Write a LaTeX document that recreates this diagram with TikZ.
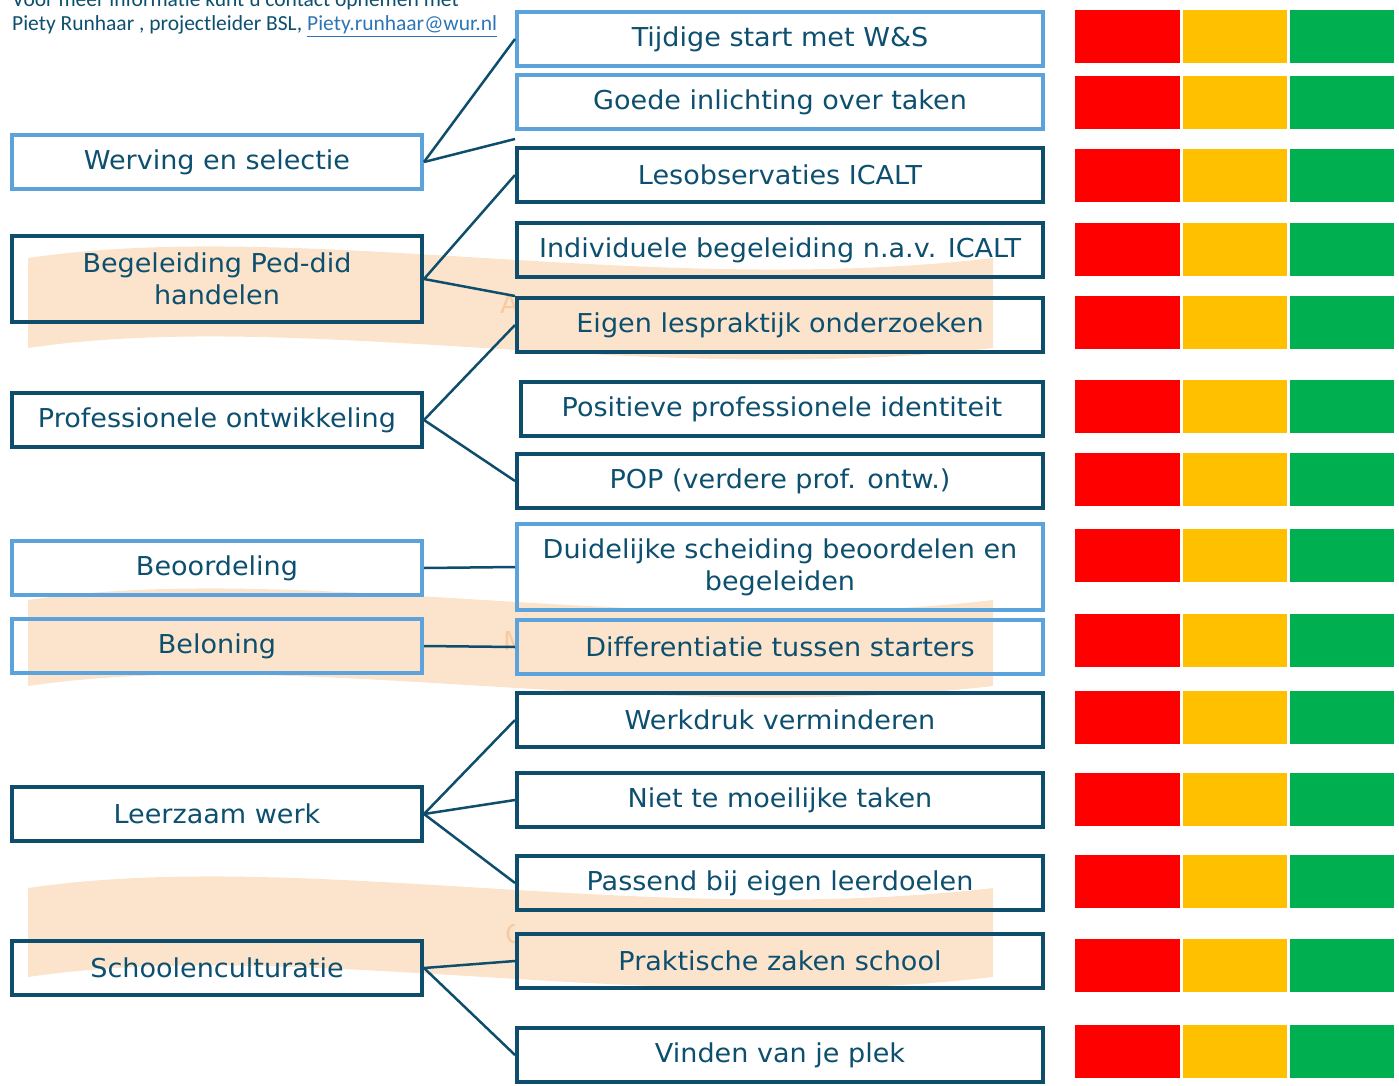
\documentclass[tikz,border=0pt]{standalone}
\usepackage{fontspec}
\setmainfont{DejaVu Sans}[FakeStretch=1.04, Ligatures=NoCommon]
\newfontfamily\calfont{Carlito}
\definecolor{dk}{HTML}{0E4E6C}
\definecolor{lb}{HTML}{5BA3DA}
\definecolor{txt}{HTML}{0D4F6E}
\definecolor{peach}{HTML}{FCE4CC}
\definecolor{peachtxt}{HTML}{F9C9A0}
\definecolor{rd}{HTML}{FF0000}
\definecolor{yl}{HTML}{FFC000}
\definecolor{gr}{HTML}{00B050}
\definecolor{linkc}{HTML}{2E75B6}
\tikzset{
  box/.style={draw, rectangle, line width=4pt, inner sep=0pt, text=txt, align=center,
    font=\fontsize{26}{32}\selectfont},
  darkbox/.style={box, draw=dk},
  lightbox/.style={box, draw=lb},
  lsize/.style={minimum width=410pt, minimum height=54pt},
  rsize/.style={minimum width=526pt, minimum height=54pt},
  tall/.style={minimum height=86pt},
  conn/.style={draw=dk, line width=2.5pt},
  cell/.style={rectangle, inner sep=0pt, minimum height=53pt, minimum width=104pt},
  hidden/.style={anchor=base west, inner sep=0pt, text=peachtxt, font=\fontsize{26}{30}\selectfont},
  note/.style={anchor=base west, inner sep=0pt, text=txt, font=\calfont\fontsize{21.5}{24}\selectfont}
}
\begin{document}
\begin{tikzpicture}[x=1pt,y=-1pt]
\useasboundingbox (0,0) rectangle (1399,1086);
% banners
\foreach \Y/\H in {258/90, 600/86, 888/89}{
  \fill[peach] (28,\Y) .. controls (300,\Y-40) and (650,\Y+40) .. (993,\Y)
     -- (993,\Y+\H) .. controls (650,\Y+\H+40) and (300,\Y+\H-40) .. (28,\Y+\H) -- cycle;
}
\begin{scope}
  \clip (480,0) rectangle (514,1086);
  \node[hidden] (hA) at (500,313) {A};
  \node[hidden] (hM) at (503,650) {M};
  \node[hidden] (hO) at (505,943) {O};
\end{scope}
% note
\node[note] (t1) at (12,7) {Voor meer informatie kunt u contact opnemen met};
\node[note] (t2) at (12,31) {Piety Runhaar , projectleider BSL, \textcolor{linkc}{\underline{Piety.runhaar@wur.nl}}};
% left boxes
\node[lightbox, lsize] (l1) at (217,162) {Werving en selectie};
\node[darkbox, lsize, tall] (l2) at (217,279) {Begeleiding Ped-did\\handelen};
\node[darkbox, lsize] (l3) at (217,420) {Professionele ontwikkeling};
\node[lightbox, lsize] (l4) at (217,568) {Beoordeling};
\node[lightbox, lsize] (l5) at (217,646) {Beloning};
\node[darkbox, lsize] (l6) at (217,814) {Leerzaam werk};
\node[darkbox, lsize] (l7) at (217,968) {Schoolenculturatie};
% right boxes
\node[lightbox, rsize] (r1) at (780,39) {Tijdige start met W\&S};
\node[lightbox, rsize] (r2) at (780,102) {Goede inlichting over taken};
\node[darkbox, rsize] (r3) at (780,175) {Lesobservaties ICALT};
\node[darkbox, rsize] (r4) at (780,250) {Individuele begeleiding n.a.v. ICALT};
\node[darkbox, rsize] (r5) at (780,325) {Eigen lespraktijk onderzoeken};
\node[darkbox, rsize, minimum width=522pt] (r6) at (782,409) {Positieve professionele identiteit};
\node[darkbox, rsize] (r7) at (780,481) {POP (verdere prof. ontw.)};
\node[lightbox, rsize, tall] (r8) at (780,567) {Duidelijke scheiding beoordelen en\\begeleiden};
\node[lightbox, rsize] (r9) at (780,647) {Differentiatie tussen starters};
\node[darkbox, rsize] (r10) at (780,720) {Werkdruk verminderen};
\node[darkbox, rsize] (r11) at (780,800) {Niet te moeilijke taken};
\node[darkbox, rsize] (r12) at (780,883) {Passend bij eigen leerdoelen};
\node[darkbox, rsize] (r13) at (780,961) {Praktische zaken school};
\node[darkbox, rsize] (r14) at (780,1055) {Vinden van je plek};
% connectors
\coordinate (g2) at (515,139);
\draw[conn] (l1.east) -- (r1.west);
\draw[conn] (l1.east) -- (g2);
\draw[conn] (l2.east) -- (r3.west);
\draw[conn] (l2.east) -- (r5.north west);
\draw[conn] (l3.east) -- (r5.west);
\draw[conn] (l3.east) -- (r7.west);
\draw[conn] (l4.east) -- (r8.west);
\draw[conn] (l5.east) -- (r9.west);
\draw[conn] (l6.east) -- (r10.west);
\draw[conn] (l6.east) -- (r11.west);
\draw[conn] (l6.east) -- (r12.west);
\draw[conn] (l7.east) -- (r13.west);
\draw[conn] (l7.east) -- (r14.west);
% traffic light cells
\foreach \i/\yc in {1/36.5, 2/102.5, 3/175.5, 4/249.5, 5/322.5, 6/406.5, 7/479.5, 8/555.5, 9/640.5, 10/717.5, 11/799.5, 12/881.5, 13/965.5, 14/1051.5}{
  \node[cell, fill=rd, minimum width=105pt] (cr\i) at (1127.5,\yc) {};
  \node[cell, fill=yl] (cy\i) at (1235,\yc) {};
  \node[cell, fill=gr] (cg\i) at (1342,\yc) {};
}
\end{tikzpicture}
\end{document}
